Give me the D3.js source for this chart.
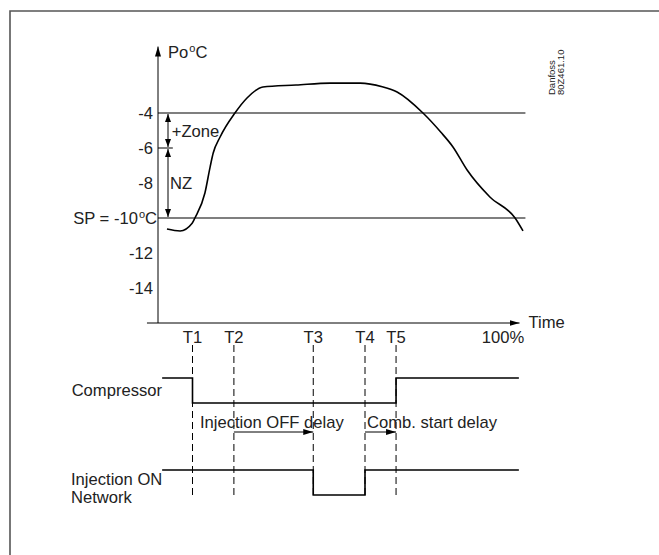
<!DOCTYPE html>
<html>
<head>
<meta charset="utf-8">
<script src="https://cdn.jsdelivr.net/npm/d3@7"></script>
<style>
  body { margin: 0; background: #fff; }
  text { font-family: "Liberation Sans", Arial, sans-serif; fill: #222; }
</style>
</head>
<body>
<svg></svg>
<script>
const svgWidth = 659;
const svgHeight = 555;
const fs = 16.6;

// pressure curve (time in %, Po in °C)
const curveTime = [2.6, 6.4, 9.9, 10.7, 13.6, 15.1, 16, 18, 22.3, 25.8, 30.4, 40, 49.9, 58.6, 65, 69.3, 76.8, 82, 85.5, 89.6, 96.2, 103.5, 105.8];
const curveTemp = [-10.63, -10.74, -10.3, -10, -8.57, -7.09, -6.29, -5.37, -4, -3.14, -2.51, -2.4, -2.29, -2.29, -2.5, -2.8, -4, -5.1, -5.94, -7.26, -8.8, -10, -10.74];

const yTicks = [-4, -6, -8, -10, -12, -14];
const setPoint = -10;
const zoneTop = -4;
const zoneMid = -6;

const timeLabels = ["T1", "T2", "T3", "T4", "T5"];
const timeValues = [10, 22, 45, 60, 69];

const compressorTime = [1.2, 10, 69, 104.6];
const compressorState = [1, 0, 1, 1];
const injectionTime = [1.2, 45, 60, 104.6];
const injectionState = [1, 0, 1, 1];

const delayLabels = ["Injection OFF delay", "Comb. start delay"];
const delayFrom = [22, 60];
const delayTo = [45, 69];

const x = d3.scaleLinear().domain([0, 100]).range([158, 503]);
const y = d3.scaleLinear().domain([-16, 0]).range([323, 43]);
const state = d3.scaleLinear().domain([0, 1]).range([0, -25]);
const compBase = 403;
const injBase = 495;

const svg = d3.select('svg')
  .attr('width', svgWidth)
  .attr('height', svgHeight);

const defs = svg.append('defs');
defs.append('marker')
  .attr('id', 'head')
  .attr('viewBox', '0 0 10 6')
  .attr('refX', 10).attr('refY', 3)
  .attr('markerWidth', 10).attr('markerHeight', 6)
  .attr('markerUnits', 'userSpaceOnUse')
  .attr('orient', 'auto-start-reverse')
  .append('path').attr('d', 'M0,0L10,3L0,6Z').attr('fill', '#000');
defs.append('marker')
  .attr('id', 'small')
  .attr('viewBox', '0 0 8 6')
  .attr('refX', 8).attr('refY', 3)
  .attr('markerWidth', 8).attr('markerHeight', 6)
  .attr('markerUnits', 'userSpaceOnUse')
  .attr('orient', 'auto-start-reverse')
  .append('path').attr('d', 'M0,0L8,3L0,6Z').attr('fill', '#000');

// frame (cut at right and bottom)
svg.append('path')
  .attr('d', 'M10,555V11H659')
  .attr('fill', 'none')
  .attr('stroke', '#555')
  .attr('stroke-width', 1.6);

// axes
svg.append('line')
  .attr('x1', x(0)).attr('x2', x(0))
  .attr('y1', y(-16)).attr('y2', y(-0.2))
  .attr('stroke', '#000').attr('marker-end', 'url(#head)');
svg.append('line')
  .attr('x1', x(-3.2)).attr('x2', x(104.8))
  .attr('y1', y(-16)).attr('y2', y(-16))
  .attr('stroke', '#000').attr('marker-end', 'url(#head)');

const poLabel = svg.append('text')
  .attr('x', x(0) + 10).attr('y', 58)
  .attr('font-size', fs);
poLabel.append('tspan').text('Po');
poLabel.append('tspan').attr('dx', 1).attr('dy', -6).attr('font-size', 11).text('o');
poLabel.append('tspan').attr('dy', 6).text('C');

svg.append('text')
  .attr('x', x(104.8) + 9).attr('y', y(-16) + 5)
  .attr('font-size', fs).text('Time');
svg.append('text')
  .attr('x', x(100)).attr('y', 343)
  .attr('text-anchor', 'middle')
  .attr('font-size', fs).text('100%');

// y tick labels
yTicks.forEach(function (t) {
  const lab = svg.append('text')
    .attr('x', t === setPoint ? x(0) - 1 : x(0) - 5)
    .attr('y', y(t) + 6)
    .attr('text-anchor', 'end')
    .attr('font-size', fs);
  if (t === setPoint) {
    lab.append('tspan').text('SP = ' + t);
    lab.append('tspan').attr('dx', 1).attr('dy', -6).attr('font-size', 11).text('o');
    lab.append('tspan').attr('dy', 6).text('C');
  } else {
    lab.text(t);
  }
});

// reference lines
[zoneTop, setPoint].forEach(function (t) {
  svg.append('line')
    .attr('x1', x(0)).attr('x2', x(106.5))
    .attr('y1', y(t)).attr('y2', y(t))
    .attr('stroke', '#000').attr('stroke-width', 1.2);
});
svg.append('line')
  .attr('x1', x(0)).attr('x2', x(4.3))
  .attr('y1', y(zoneMid)).attr('y2', y(zoneMid))
  .attr('stroke', '#000');

// zone arrows
[[zoneTop, zoneMid], [zoneMid, setPoint]].forEach(function (z) {
  svg.append('line')
    .attr('x1', x(2.9)).attr('x2', x(2.9))
    .attr('y1', y(z[0]) + 1).attr('y2', y(z[1]) - 1)
    .attr('stroke', '#000')
    .attr('marker-start', 'url(#small)')
    .attr('marker-end', 'url(#small)');
});
svg.append('text').attr('x', x(4)).attr('y', y(-5) + 6)
  .attr('font-size', fs).text('+Zone');
svg.append('text').attr('x', x(3.5)).attr('y', y(-8) + 6)
  .attr('font-size', fs).text('NZ');

// pressure curve
const line = d3.line()
  .x(d => x(d[0]))
  .y(d => y(d[1]))
  .curve(d3.curveMonotoneX);
svg.append('path')
  .datum(curveTime.map((t, i) => [t, curveTemp[i]]))
  .attr('d', line)
  .attr('fill', 'none')
  .attr('stroke', '#000')
  .attr('stroke-width', 1.6);

// time marks
timeValues.forEach(function (t, i) {
  svg.append('text')
    .attr('x', x(t)).attr('y', 343)
    .attr('text-anchor', 'middle')
    .attr('font-size', fs).text(timeLabels[i]);
  svg.append('line')
    .attr('x1', x(t)).attr('x2', x(t))
    .attr('y1', 345).attr('y2', 496)
    .attr('stroke', '#000')
    .attr('stroke-dasharray', '7,4');
});

// signal traces
const stepLine = function (base) {
  return d3.line()
    .x(d => x(d[0]))
    .y(d => base + state(d[1]))
    .curve(d3.curveStepAfter);
};
svg.append('path')
  .datum(compressorTime.map((t, i) => [t, compressorState[i]]))
  .attr('d', stepLine(compBase))
  .attr('fill', 'none').attr('stroke', '#000').attr('stroke-width', 1.6);
svg.append('path')
  .datum(injectionTime.map((t, i) => [t, injectionState[i]]))
  .attr('d', stepLine(injBase))
  .attr('fill', 'none').attr('stroke', '#000').attr('stroke-width', 1.6);

svg.append('text').attr('x', 162).attr('y', 396)
  .attr('text-anchor', 'end').attr('font-size', fs).text('Compressor');
svg.append('text').attr('x', 71).attr('y', 485)
  .attr('font-size', fs).text('Injection ON');
svg.append('text').attr('x', 71).attr('y', 503)
  .attr('font-size', fs).text('Network');

// delays
delayLabels.forEach(function (d, i) {
  svg.append('text')
    .attr('x', x(delayFrom[i]) + (i === 0 ? -34 : 2))
    .attr('y', 428)
    .attr('font-size', fs).text(d);
  svg.append('line')
    .attr('x1', x(delayFrom[i])).attr('x2', x(delayTo[i]))
    .attr('y1', 432).attr('y2', 432)
    .attr('stroke', '#000')
    .attr('marker-end', 'url(#head)');
});

// drawing number
const stamp = svg.append('text')
  .attr('transform', 'translate(555,95) rotate(-90)')
  .attr('font-size', 9.5);
stamp.append('tspan').attr('x', 0).attr('dy', 0).text('Danfoss');
stamp.append('tspan').attr('x', 0).attr('dy', 9).text('80Z461.10');
</script>
</body>
</html>
